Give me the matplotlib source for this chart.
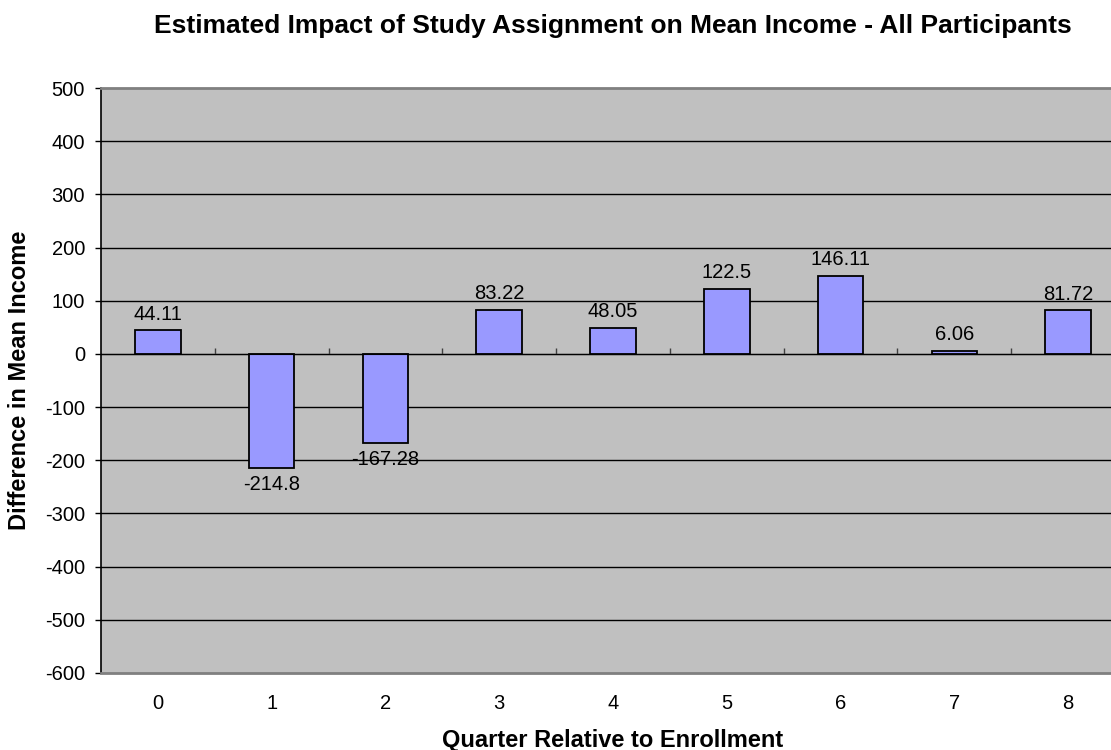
import numpy as np
import matplotlib
matplotlib.use("Agg")
import matplotlib.pyplot as plt

quarters = ["0", "1", "2", "3", "4", "5", "6", "7", "8"]
diff_income = [44.11, -214.8, -167.28, 83.22, 48.05, 122.5, 146.11, 6.06, 81.72]
value_labels = ["44.11", "-214.8", "-167.28", "83.22", "48.05", "122.5", "146.11", "6.06", "81.72"]
yticks = [-600, -500, -400, -300, -200, -100, 0, 100, 200, 300, 400, 500]

plt.rcParams['font.family'] = ['Liberation Sans', 'DejaVu Sans']

fig = plt.figure(figsize=(11.11, 7.5), dpi=100)
# plot area runs a little past the right edge of the figure
ax = fig.add_axes([101/1111, 77/750, 1024/1111, 585/750])
ax.set_facecolor('#C0C0C0')

x = np.arange(len(quarters))
ax.set_xlim(-0.5, len(quarters) - 0.5)
ax.set_ylim(-600, 500)
ax.set_yticks(yticks)
ax.set_yticklabels([str(v) for v in yticks])

for v in yticks[1:-1]:
    ax.axhline(v, color='black', lw=1, zorder=1)

ax.bar(x, diff_income, width=0.4, color='#9999FF', edgecolor='black', lw=1.3, zorder=3)

for xi, v, lab in zip(x, diff_income, value_labels):
    off = 5 if v >= 0 else -5
    ax.annotate(lab, (xi, v), xytext=(0, off), textcoords='offset points',
                ha='center', va='bottom' if v >= 0 else 'top', fontsize=14.5, zorder=4)

# category axis crossing at zero, with ticks between categories
sec = ax.secondary_xaxis(600/1100)
sec.set_xticks(np.arange(0.5, len(quarters) - 0.5, 1.0))
sec.set_xticklabels([])
sec.tick_params(axis='x', direction='out', length=4, width=1, color='#404040')
sec.spines['bottom'].set_color('black')
sec.spines['bottom'].set_linewidth(1.2)
sec.set_zorder(3.5)

ax.set_xticks(x)
ax.set_xticklabels(quarters)
ax.tick_params(axis='x', length=0, pad=15, labelsize=14.5)
ax.tick_params(axis='y', direction='out', length=4.5, width=1, pad=7, labelsize=14.5)

for s in ['top', 'bottom']:
    ax.spines[s].set_color('#808080')
    ax.spines[s].set_linewidth(2)
ax.spines['right'].set_visible(False)
ax.spines['left'].set_color('black')
ax.spines['left'].set_linewidth(1.2)

cx = 613/1111
fig.text(cx, 1 - 26/750, 'Estimated Impact of Study Assignment on Mean Income - All Participants',
         ha='center', va='center', fontsize=19, fontweight='bold')
fig.text(cx, 1 - 740/750, 'Quarter Relative to Enrollment',
         ha='center', va='center', fontsize=17, fontweight='bold')
fig.text(20/1111, 1 - 380/750, 'Difference in Mean Income', rotation=90,
         ha='center', va='center', fontsize=17, fontweight='bold')

fig.savefig('out.png', dpi=100)
